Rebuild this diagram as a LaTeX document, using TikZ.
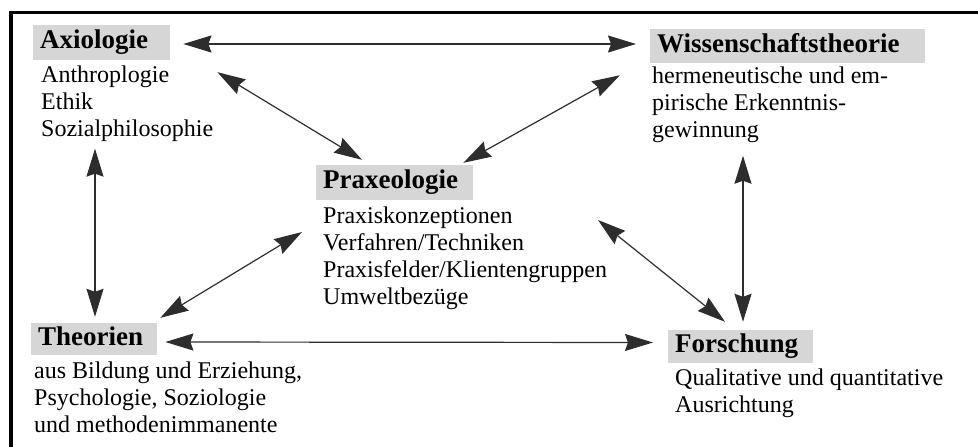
\documentclass[tikz,border=0pt]{standalone}
\usepackage{fontspec}
\setmainfont{Liberation Serif}
\usetikzlibrary{arrows.meta,calc}
\definecolor{headgray}{RGB}{214,214,214}
\definecolor{arrowgray}{RGB}{45,45,45}
\begin{document}
\begin{tikzpicture}[x=1pt,y=-1pt,
  head/.style={fill=headgray, anchor=west, inner xsep=7pt, inner ysep=0pt,
    font=\fontsize{27}{30}\selectfont\bfseries, text height=18pt, text depth=6pt},
  body/.style={anchor=north west, inner sep=0pt, align=left,
    font=\fontsize{24}{27}\selectfont},
  link/.style={draw=arrowgray, line width=1.2pt,
    {Stealth[length=28pt,width=17pt,inset=3pt]}-{Stealth[length=28pt,width=17pt,inset=3pt]}}
]
\useasboundingbox (0,0) rectangle (978,447);

% frame
\draw[line width=3.5pt] (978,12.5) -- (11,12.5) -- (11,447);

% headings
\node[head, text width=123pt, minimum height=35pt] (axio) at (33,42.5) {Axiologie};
\node[head, text width=261pt, minimum height=34pt] (wiss) at (650,46) {Wissenschaftstheorie};
\node[head, text width=143pt, minimum height=35pt] (prax) at (316,182.5) {Praxeologie};
\node[head, text width=112pt, minimum height=32pt] (theo) at (31,339) {Theorien};
\node[head, text width=131pt, minimum height=33pt] (forsch) at (668,346.5) {Forschung};

% descriptions
\node[body] (axiob) at (41,65.5) {Anthroplogie\\Ethik\\Sozialphilosophie};
\node[body] (wissb) at (652,66.5) {hermeneutische und em-\\pirische Erkenntnis-\\gewinnung};
\node[body] (praxb) at (323,206.5) {Praxiskonzeptionen\\Verfahren/Techniken\\Praxisfelder/Klientengruppen\\Umweltbezüge};
\node[body] (theob) at (34,361.5) {aus Bildung und Erziehung,\\Psychologie, Soziologie\\und methodenimmanente};
\node[body] (forschb) at (675,368.5) {Qualitative und quantitative\\Ausrichtung};

% relations
\draw[link] ($(axio.east)+(13,1.5)$) -- ($(wiss.west)+(-14,-2)$);
\draw[link] ($(axio.south east)+(47,12)$) -- ($(prax.north west)+(46,-5)$);
\draw[link] ($(wiss.south west)+(-30,12)$) -- ($(prax.north east)+(-10,-2)$);
\draw[link] ($(axiob.south west)+(54,7)$) -- ($(theo.north west)+(64,-6)$);
\draw[link] ($(theo.north east)+(3,-5)$) -- ($(praxb.north west)+(-21,25.5)$);
\draw[link] ($(theo.east)+(8,3)$) -- ($(forsch.west)+(-15,-4)$);
\draw[link] ($(wissb.south west)+(91,13)$) -- ($(forsch.north west)+(75,-8)$);
\draw[link] ($(praxb.north west)+(275,13.5)$) -- ($(forsch.north west)+(57,-8)$);
\end{tikzpicture}
\end{document}
